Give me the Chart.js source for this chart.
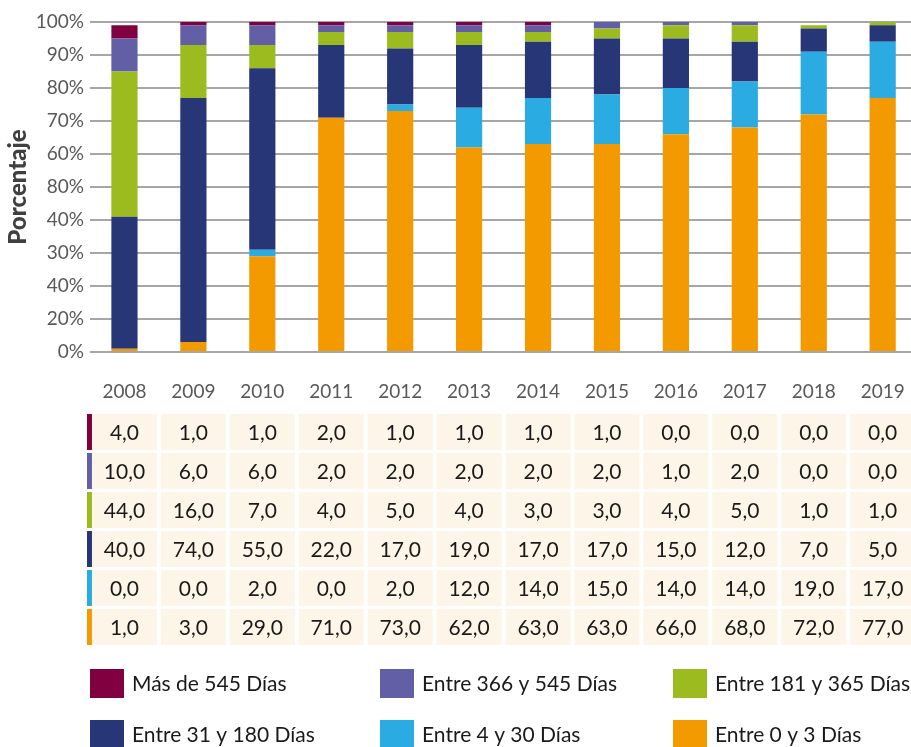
<!DOCTYPE html>
<html>
<head>
<meta charset="utf-8">
<script src="https://cdn.jsdelivr.net/npm/chart.js@4"></script>
<style>
  html, body { margin: 0; padding: 0; background: #fff; overflow: hidden; }
  #wrap { width: 925px; height: 747px; position: relative; }
</style>
</head>
<body>
<div id="wrap"><canvas id="chart"></canvas></div>
<script>
// Years (categories)
const years = ['2008','2009','2010','2011','2012','2013','2014','2015','2016','2017','2018','2019'];

// Series values (percent, as in the table)
const mas545   = [4, 1, 1, 2, 1, 1, 1, 1, 0, 0, 0, 0];
const d366_545 = [10, 6, 6, 2, 2, 2, 2, 2, 1, 2, 0, 0];
const d181_365 = [44, 16, 7, 4, 5, 4, 3, 3, 4, 5, 1, 1];
const d31_180  = [40, 74, 55, 22, 17, 19, 17, 17, 15, 12, 7, 5];
const d4_30    = [0, 0, 2, 0, 2, 12, 14, 15, 14, 14, 19, 17];
const d0_3     = [1, 3, 29, 71, 73, 62, 63, 63, 66, 68, 72, 77];

// Y tick labels as printed in the original (bottom to top)
const yTickLabels = ['0%','20%','40%','30%','40%','80%','60%','70%','80%','90%','100%'];

// Series in table/legend order (top to bottom)
const series = [
  { label: 'Más de 545 Días',      data: mas545,   color: '#800040' },
  { label: 'Entre 366 y 545 Días', data: d366_545, color: '#625fa6' },
  { label: 'Entre 181 y 365 Días', data: d181_365, color: '#9bbb1f' },
  { label: 'Entre 31 y 180 Días',  data: d31_180,  color: '#263677' },
  { label: 'Entre 4 y 30 Días',    data: d4_30,    color: '#2aace3' },
  { label: 'Entre 0 y 3 Días',     data: d0_3,     color: '#f39a00' }
];

// Chart.js stacks from the first dataset up, so reverse
const datasets = series.slice().reverse().map(s => ({
  label: s.label,
  data: s.data,
  backgroundColor: s.color,
  borderWidth: 0,
  categoryPercentage: 1,
  barPercentage: 0.38
}));

const FONT = 'Lato, "Noto Sans", sans-serif';

// Draws the value table and the legend under the plot
const tablePlugin = {
  id: 'tableLegend',
  afterDraw(chart) {
    const ctx = chart.ctx;
    const xs = chart.scales.x;
    ctx.save();
    const rowTop = 414, rowPitch = 39, rowH = 36, cellW = 65;
    series.forEach((s, r) => {
      const y = rowTop + r * rowPitch;
      ctx.fillStyle = s.color;
      ctx.fillRect(87, y, 5, rowH);
      years.forEach((yr, i) => {
        const cx = xs.getPixelForValue(i);
        ctx.fillStyle = '#fdf5e7';
        ctx.fillRect(cx - cellW / 2, y, cellW, rowH);
        ctx.fillStyle = '#1a1a1a';
        ctx.font = '21px ' + FONT;
        ctx.textAlign = 'center';
        ctx.textBaseline = 'middle';
        ctx.fillText(s.data[i].toFixed(1).replace('.', ','), cx, y + rowH / 2 + 1);
      });
    });

    // legend
    const colX = [90, 380, 673];
    const rowY = [669, 720];
    series.forEach((s, k) => {
      const x = colX[k % 3], y = rowY[Math.floor(k / 3)];
      ctx.fillStyle = s.color;
      ctx.fillRect(x, y, 34, 29);
      ctx.fillStyle = '#1a1a1a';
      ctx.font = '21px ' + FONT;
      ctx.textAlign = 'left';
      ctx.textBaseline = 'middle';
      ctx.fillText(s.label, x + 42, y + 15);
    });
    ctx.restore();
  }
};

new Chart(document.getElementById('chart').getContext('2d'), {
  type: 'bar',
  data: { labels: years, datasets: datasets },
  options: {
    responsive: true,
    maintainAspectRatio: false,
    animation: false,
    layout: { padding: { top: 22, right: 7, left: 4, bottom: 0 } },
    plugins: {
      legend: { display: false },
      tooltip: { enabled: false }
    },
    scales: {
      x: {
        stacked: true,
        grid: { display: false },
        border: { display: false },
        ticks: { color: '#595959', font: { family: FONT, size: 19 }, padding: 20 },
        afterFit(scale) { scale.height = 395; }
      },
      y: {
        stacked: true,
        min: 0,
        max: 100,
        afterBuildTicks(scale) {
          scale.ticks = yTickLabels.map((t, i) => ({ value: i * 10 }));
        },
        afterFit(scale) { scale.width = 86; },
        grid: { color: '#a6a6a6', lineWidth: 2, drawTicks: false },
        border: { display: false },
        ticks: {
          color: '#595959',
          font: { family: FONT, size: 19 },
          padding: 6,
          callback: (v, i) => yTickLabels[i]
        },
        title: {
          display: true,
          text: 'Porcentaje',
          color: '#404040',
          font: { family: FONT, size: 24, weight: 900 },
          padding: { top: 0, bottom: 0 }
        }
      }
    }
  },
  plugins: [tablePlugin]
});
</script>
</body>
</html>
